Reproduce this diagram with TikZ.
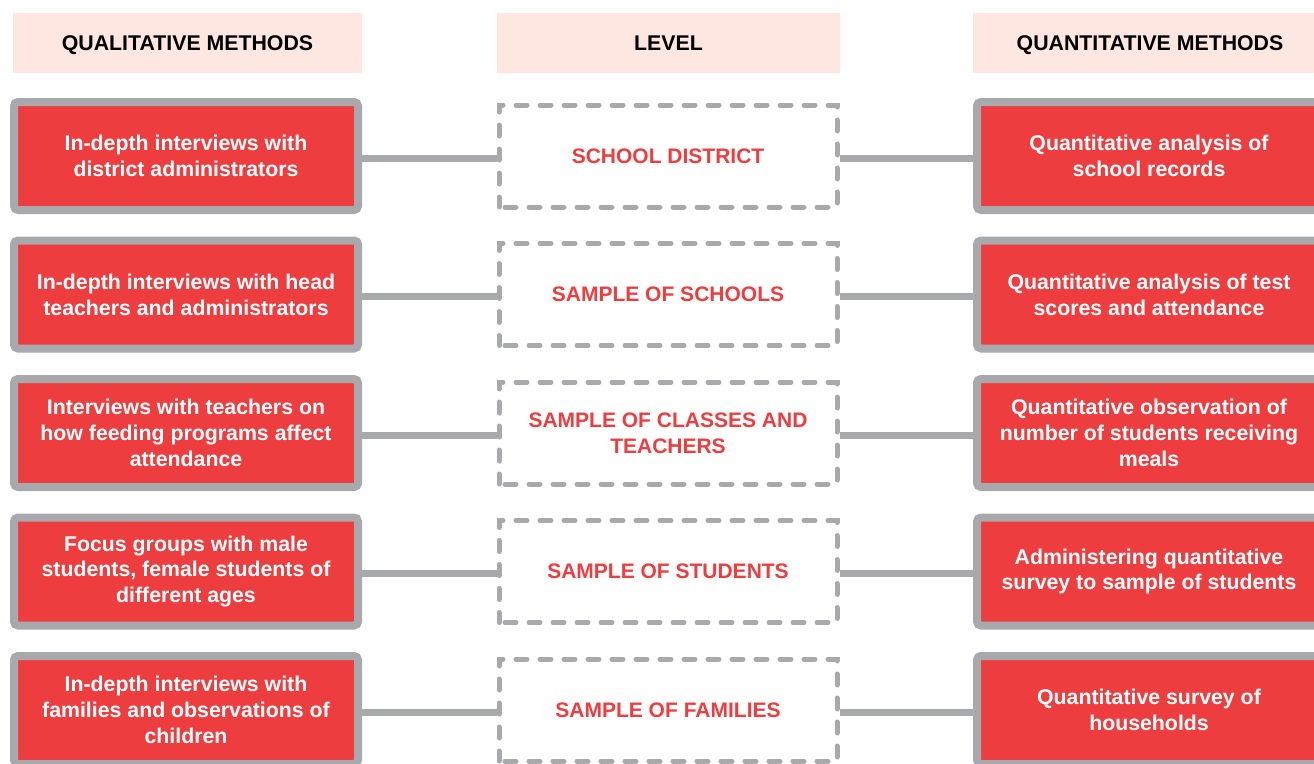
\documentclass[tikz,border=0pt]{standalone}
\usepackage{fontspec}
\setmainfont{Liberation Sans}
\definecolor{boxred}{HTML}{EE3D3F}
\definecolor{lgray}{HTML}{A7A9AC}
\definecolor{headfill}{HTML}{FDE7E0}
\begin{document}
\begin{tikzpicture}[x=1pt,y=-1pt,
  hdr/.style={fill=headfill,minimum width=#1,minimum height=60,inner sep=0pt,
    text height=15pt,text depth=0pt,
    font=\fontsize{21.3}{25}\selectfont\bfseries,text=black},
  method/.style={draw=lgray,fill=boxred,line width=8pt,rounded corners=4pt,
    minimum width=344,minimum height=108,inner sep=0pt,align=center,
    text=white,font=\fontsize{21.3}{25.8}\selectfont\bfseries},
  level/.style={draw=lgray,line width=5pt,line cap=round,dash pattern=on 11pt off 13pt,
    dash phase=-6pt,minimum width=338,minimum height=102,inner sep=0pt,align=center,
    text=boxred,font=\fontsize{21}{25.8}\selectfont\bfseries},
  conn/.style={draw=lgray,line width=7pt}]
\useasboundingbox (0,0) rectangle (1314,763);
\clip (0,0) rectangle (1314,763);
% headers
\node[hdr=349] (hq) at (187.5,43) {QUALITATIVE METHODS};
\node[hdr=343] (hl) at (668.5,43) {LEVEL};
\node[hdr=354] (hn) at (1150,43) {QUANTITATIVE METHODS};
% row 1
\node[method] (l1) at (186,156) {In-depth interviews with\\district administrators};
\node[level] (c1) at (668,156) {SCHOOL DISTRICT};
\node[method] (r1) at (1149,156) {Quantitative analysis of\\school records};
% row 2
\node[method] (l2) at (186,294.5) {In-depth interviews with head\\teachers and administrators};
\node[level] (c2) at (668,294.5) {SAMPLE OF SCHOOLS};
\node[method] (r2) at (1149,294.5) {Quantitative analysis of test\\scores and attendance};
% row 3
\node[method] (l3) at (186,433) {Interviews with teachers on\\how feeding programs affect\\attendance};
\node[level] (c3) at (668,433) {SAMPLE OF CLASSES AND\\TEACHERS};
\node[method] (r3) at (1149,433) {Quantitative observation of\\number of students receiving\\meals};
% row 4
\node[method] (l4) at (186,571.5) {Focus groups with male\\students, female students of\\different ages};
\node[level] (c4) at (668,571.5) {SAMPLE OF STUDENTS};
\node[method] (r4) at (1149,571.5) {Administering quantitative\\survey to sample of students};
% row 5
\node[method] (l5) at (186,710) {In-depth interviews with\\families and observations of\\children};
\node[level] (c5) at (668,710) {SAMPLE OF FAMILIES};
\node[method] (r5) at (1149,710) {Quantitative survey of\\households};
% connectors
\foreach \i in {1,...,5}{
  \draw[conn] ([yshift=-2pt]l\i.east) -- ([yshift=-2pt]c\i.west);
  \draw[conn] ([yshift=-2pt]c\i.east) -- ([yshift=-2pt]r\i.west);
}
\end{tikzpicture}
\end{document}
